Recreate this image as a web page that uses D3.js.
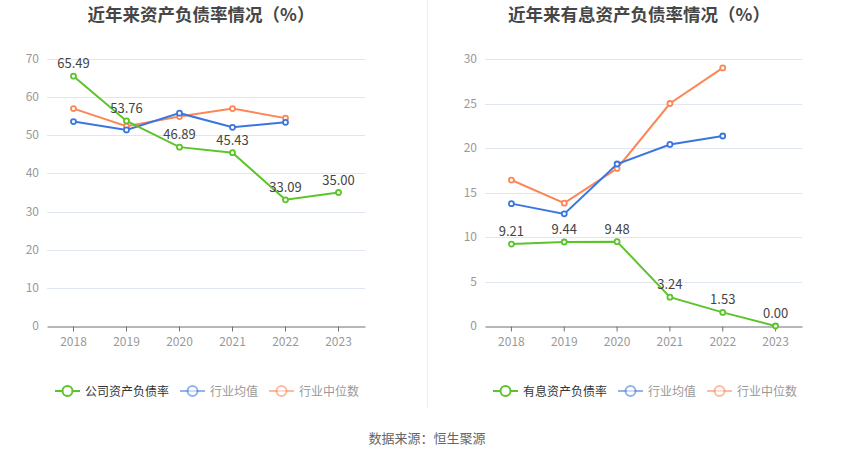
<!DOCTYPE html>
<html><head><meta charset="utf-8">
<script src="https://cdn.jsdelivr.net/npm/d3@7/dist/d3.min.js"></script>
<style>body{margin:0;background:#fff;font-family:"Noto Sans CJK SC","Noto Sans",sans-serif;}</style>
</head><body><svg id="c" width="850" height="459"></svg>
<script>
const years = ["2018","2019","2020","2021","2022","2023"];
const companyDebt = [65.49, 53.76, 46.89, 45.43, 33.09, 35.00];
const industryMeanDebt = [53.6, 51.4, 55.8, 52.1, 53.4];
const industryMedianDebt = [57.0, 52.4, 54.9, 57.0, 54.5];
const interestDebt = [9.21, 9.44, 9.48, 3.24, 1.53, 0.00];
const industryMeanInterest = [13.75, 12.6, 18.2, 20.4, 21.35];
const industryMedianInterest = [16.4, 13.8, 17.7, 25.0, 29.0];
const leftTicks = [0,10,20,30,40,50,60,70];
const rightTicks = [0,5,10,15,20,25,30];

const GREEN="#5cc42b", BLUE="#3b76e0", ORANGE="#fb8757";
const svg = d3.select("#c");
const font = '"Noto Sans CJK SC","Noto Sans",sans-serif';

svg.append("line").attr("x1",427.5).attr("x2",427.5).attr("y1",0).attr("y2",408)
  .attr("stroke","#eeeeee").attr("stroke-width",1);

function chart(opt){
  const g = svg.append("g");
  const x = d3.scaleBand().domain(years).range([opt.x0,opt.x1]);
  const y = d3.scaleLinear().domain([0,opt.max]).range([326,59]);
  g.append("text").attr("x",opt.titleX).attr("y",21).attr("text-anchor","middle")
    .attr("font-size",17.5).attr("font-weight","bold").attr("fill","#464646")
    .attr("font-family",font).text(opt.title);
  g.selectAll(".grid").data(opt.ticks.filter(t=>t>0)).enter().append("line")
    .attr("x1",opt.x0).attr("x2",opt.x1).attr("y1",d=>Math.round(y(d))+0.5).attr("y2",d=>Math.round(y(d))+0.5)
    .attr("stroke","#e0e6f1").attr("stroke-width",1);
  g.selectAll(".yl").data(opt.ticks).enter().append("text")
    .attr("x",opt.x0-8).attr("y",d=>y(d)+4).attr("text-anchor","end")
    .attr("font-size",12).attr("fill","#999").attr("font-family",font).text(d=>d);
  const xa = d3.axisBottom(x).tickSize(5).tickSizeOuter(0);
  const ax = g.append("g").attr("transform","translate(0,326.5)").call(xa);
  ax.select(".domain").attr("stroke","#6e7079");
  ax.selectAll(".tick line").attr("stroke","#6e7079");
  ax.selectAll(".tick text").attr("fill","#999").attr("font-size",12).attr("font-family",font).attr("dy","0.95em");
  const cx = d=>x(d)+x.bandwidth()/2;
  const line = d3.line().x((d,i)=>cx(years[i])).y(d=>y(d));
  const series = [
    {v:opt.med,c:ORANGE},{v:opt.mean,c:BLUE},{v:opt.main,c:GREEN}
  ];
  series.forEach(s=>{
    g.append("path").attr("d",line(s.v)).attr("fill","none").attr("stroke",s.c).attr("stroke-width",2);
    g.selectAll(null).data(s.v).enter().append("circle")
      .attr("cx",(d,i)=>cx(years[i])).attr("cy",d=>y(d)).attr("r",2.5)
      .attr("fill","#fff").attr("stroke",s.c).attr("stroke-width",1.8);
  });
  g.selectAll(".dl").data(opt.main).enter().append("text")
    .attr("x",(d,i)=>cx(years[i])).attr("y",d=>y(d)-8).attr("text-anchor","middle")
    .attr("font-size",13).attr("fill","#444").attr("font-family",font).text(d=>d.toFixed(2));
  const items=[{t:opt.legend,c:GREEN,tc:"#333",o:1},{t:"行业均值",c:BLUE,tc:"#999",o:0.55},{t:"行业中位数",c:ORANGE,tc:"#999",o:0.55}];
  let lx = opt.legX;
  items.forEach(it=>{
    const lg=g.append("g");
    lg.append("line").attr("x1",lx).attr("x2",lx+25).attr("y1",391).attr("y2",391)
      .attr("stroke",it.c).attr("stroke-width",2).attr("opacity",it.o);
    lg.append("circle").attr("cx",lx+12.5).attr("cy",391).attr("r",5).attr("fill","#fff")
      .attr("stroke",it.c).attr("stroke-width",2).attr("opacity",it.o);
    const t=lg.append("text").attr("x",lx+30).attr("y",395.5).attr("font-size",12)
      .attr("fill",it.tc).attr("font-family",font).text(it.t);
    lx += 30 + t.node().getComputedTextLength() + 11;
  });
}

chart({x0:47,x1:365,max:70,ticks:leftTicks,title:"近年来资产负债率情况（%）",titleX:201,
  main:companyDebt,mean:industryMeanDebt,med:industryMedianDebt,legend:"公司资产负债率",legX:55});
chart({x0:485,x1:802,max:30,ticks:rightTicks,title:"近年来有息资产负债率情况（%）",titleX:639,
  main:interestDebt,mean:industryMeanInterest,med:industryMedianInterest,legend:"有息资产负债率",legX:493});

svg.append("text").attr("x",427).attr("y",443).attr("text-anchor","middle").attr("font-size",13)
  .attr("fill","#666").attr("font-family",font).text("数据来源：恒生聚源");
</script></body></html>
